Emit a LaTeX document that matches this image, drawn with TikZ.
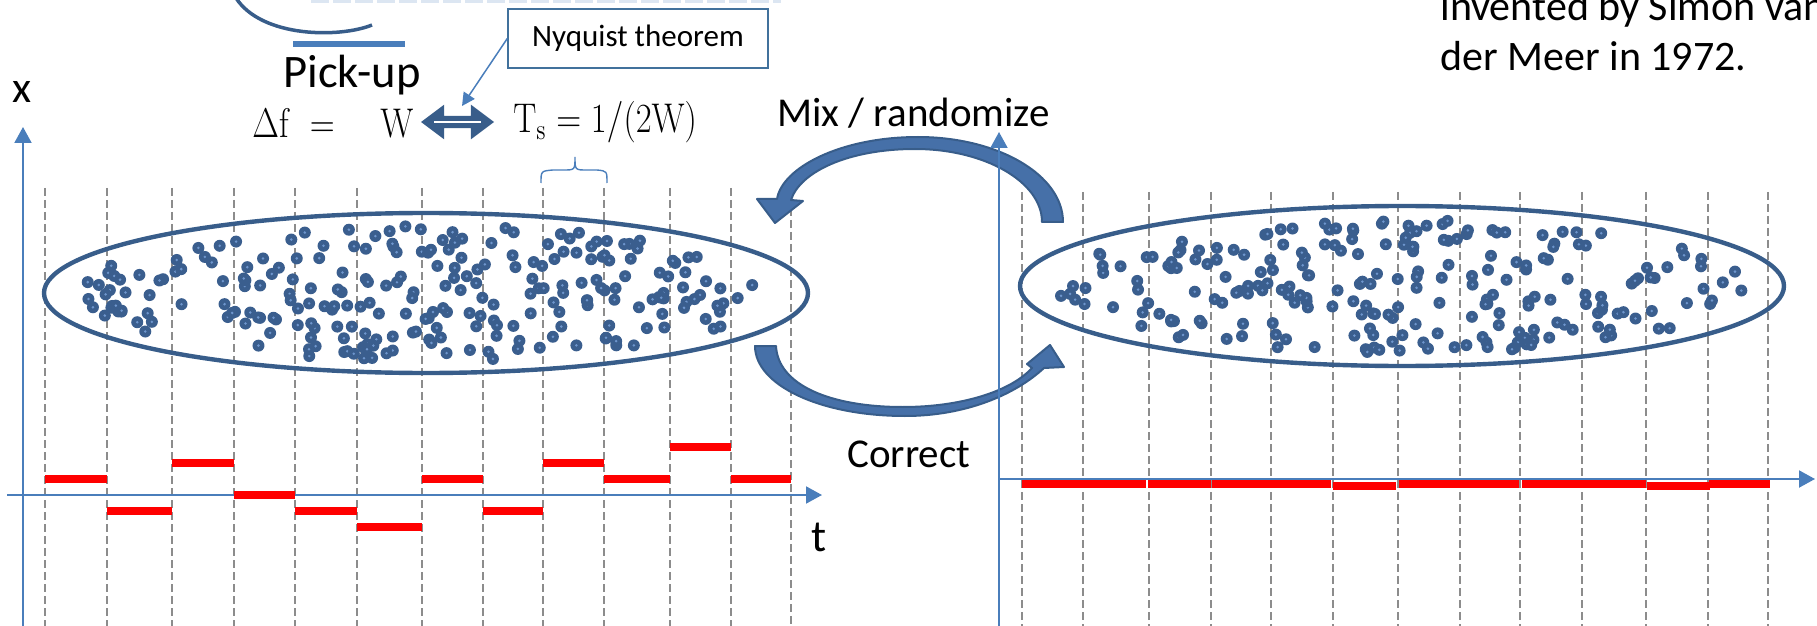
\documentclass[tikz,border=0pt]{standalone}
\usepackage[no-math]{fontspec}
\setmainfont{Carlito}
\usepackage{amsmath}
\usetikzlibrary{arrows.meta, positioning}

\definecolor{axisblue}{RGB}{74,126,187}
\definecolor{darkblue}{RGB}{56,93,138}
\definecolor{dotblue}{RGB}{58,94,142}
\definecolor{dotlight}{RGB}{110,150,205}
\definecolor{arrowfill}{RGB}{70,112,168}
\definecolor{boxblue}{RGB}{65,113,156}
\definecolor{dashgray}{RGB}{140,140,140}
\definecolor{faint}{RGB}{220,230,242}

\begin{document}
\begin{tikzpicture}[
    x=0.5pt, y=-0.5pt,
    grid/.style={dashgray, line width=0.65pt, dash pattern=on 4pt off 2pt},
    axis/.style={axisblue, line width=1pt, -{Triangle[length=8pt,width=8.5pt]}},
    level/.style={red, line width=4pt},
    bunch/.style={darkblue, line width=2.2pt},
    turn/.style={fill=arrowfill, draw=darkblue, line width=1pt, line join=round},
    lbl/.style={inner sep=0pt, anchor=base west},
    eqn/.style={lbl, font=\fontsize{17}{20}\selectfont}
]
\useasboundingbox (0,0) rectangle (1817,626);
\clip (0,0) rectangle (1817,626);

% pick-up sketch
\draw[faint, line width=2pt, dash pattern=on 9pt off 2pt] (311,1) -- (781,1);
\draw[darkblue, line width=1.75pt] (236,-2) .. controls (262,38) and (340,38) .. (372,25);
\draw[axisblue, line width=3pt] (293,44) -- (405,44);
\node[lbl, font=\fontsize{23.3}{28}\selectfont] (pickup) at (283,88) {Pick-up};

% Nyquist
\node[eqn] (df) at (252,138) {\scalebox{1}[1.2]{$\Delta\mathrm{f}\;=$}};
\node[eqn] (w) at (380,138) {\scalebox{1}[1.2]{$\mathrm{W}$}};
\node[eqn] (ts) at (513,133) {\scalebox{1}[1.2]{$\mathrm{T_s} = 1/(2\mathrm{W})$}};
\draw[darkblue, line width=1.2pt, fill=darkblue, line join=miter]
    (423,122) -- (443,107) -- (443,117) -- (472,117) -- (472,107) -- (492,122)
    -- (472,137) -- (472,127) -- (443,127) -- (443,137) -- cycle;
\draw[white, line width=0.9pt] (434,122) -- (481,122);
\node[draw=boxblue, line width=0.7pt, minimum width=130pt, minimum height=29.5pt,
      inner sep=0pt, font=\fontsize{15.5}{18}\selectfont] (nyq) at (638,38.5) {Nyquist theorem};
\coordinate (nyqtip) at (462,106);
\draw[axisblue, line width=0.75pt, -{Triangle[length=6.5pt,width=6.5pt]}] (nyq.west) -- (nyqtip);
\draw[axisblue, line width=0.7pt] (541,183) .. controls (541,171) .. (553,170) -- (563,170)
    .. controls (575,170) .. (575,157) .. controls (575,170) .. (587,170) -- (597,170)
    .. controls (607,171) .. (607,183);

\node[lbl, font=\fontsize{21}{25}\selectfont] (inv1) at (1440,21) {invented by Simon van};
\node[lbl, font=\fontsize{21}{25}\selectfont] (inv2) at (1440,71) {der Meer in 1972.};

% sampling slices
\foreach \gx/\gy in {45/188,107/188,172/188,234/188,295/188,357/188,422/188,
                     483/188,543/188,604/188,670/188,731/188,791/208}
    \draw[grid] (\gx,\gy) -- (\gx,626);
\foreach \gx in {1022,1083,1149,1211,1271,1333,1398,1460,1520,1582,1646,1708,1768}
    \draw[grid] (\gx,192) -- (\gx,626);

% beams
\draw[bunch] (426,293) ellipse [x radius=191pt, y radius=40pt];
\draw[bunch] (1402,286) ellipse [x radius=191pt, y radius=40pt];

\pgfmathsetseed{4172}
\foreach \i in {1,...,250}{
    \pgfmathsetmacro\rr{0.96*sqrt(rnd)}
    \pgfmathsetmacro\aa{360*rnd}
    \coordinate (pt) at ({426+360*\rr*cos(\aa)},{293+70*\rr*sin(\aa)});
    \fill[dotblue] (pt) circle (3pt);
    \fill[dotlight] (pt) circle (0.7pt);
}
\foreach \i in {1,...,230}{
    \pgfmathsetmacro\rr{0.96*sqrt(rnd)}
    \pgfmathsetmacro\aa{360*rnd}
    \coordinate (pt) at ({1402+360*\rr*cos(\aa)},{286+70*\rr*sin(\aa)});
    \fill[dotblue] (pt) circle (3pt);
    \fill[dotlight] (pt) circle (0.7pt);
}

% mix / correct arrows
\draw[turn] (1063,222) .. controls (1063,175) and (998,137) .. (918,137)
    .. controls (840,137) and (782,168) .. (777,199) -- (757,199) -- (775,223)
    -- (803,201) -- (791,200) .. controls (800,172) and (848,149) .. (915,149)
    .. controls (985,149) and (1042,182) .. (1042,222) -- cycle;
\draw[turn] (755,346) .. controls (755,385) and (820,416) .. (905,416)
    .. controls (965,416) and (1015,395) .. (1044,368) -- (1064,367) -- (1050,345)
    -- (1027,364) -- (1032,368) .. controls (1010,392) and (960,407) .. (903,407)
    .. controls (830,407) and (778,385) .. (776,346) -- cycle;
\node[lbl, font=\fontsize{20.5}{24}\selectfont] (mix) at (777,127) {Mix / randomize};
\node[lbl, font=\fontsize{20.5}{24}\selectfont] (correct) at (847,467) {Correct};

% axes
\coordinate (lorig) at (23,626);  \coordinate (ltop) at (23,127);
\coordinate (lleft) at (7,495);   \coordinate (lright) at (822,495);
\coordinate (rorig) at (999,626); \coordinate (rtop) at (999,132);
\coordinate (rleft) at (999,479); \coordinate (rright) at (1815,479);
\draw[axis] (lorig) -- (ltop);
\draw[axis] (lleft) -- (lright);
\draw[axis] (rorig) -- (rtop);
\node[lbl, font=\fontsize{22}{26}\selectfont] (xlab) at (12,103) {x};
\node[lbl, font=\fontsize{22.5}{26}\selectfont] (tlab) at (811,551) {t};

% corrections per slice
\foreach \a/\b/\h in {45/107/479,107/172/511,172/234/463,234/295/495,295/357/511,357/422/527,
                      422/483/479,483/543/511,543/604/463,604/670/479,670/731/447,731/791/479}
    \draw[level] (\a,\h) -- (\b,\h);
\foreach \a/\b/\h in {1022/1146/484,1148/1211/484,1212/1331/484,1333/1396/485.5,
                      1399/1519/484,1522/1646/484,1647/1710/485.5,1709/1770/484}
    \draw[level] (\a,\h) -- (\b,\h);
\draw[axis] (rleft) -- (rright);

\end{tikzpicture}
\end{document}
